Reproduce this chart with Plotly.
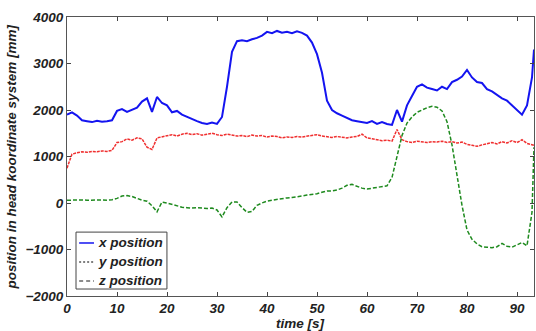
import plotly.graph_objects as go

t = list(range(0, 94)) + [93.4]

x_pos = [1900, 1950, 1880, 1780, 1760, 1740, 1770, 1750, 1760, 1780,
         1980, 2020, 1960, 2000, 2050, 2180, 2250, 1960, 2280, 2150,
         2100, 1950, 1980, 1900, 1850, 1800, 1760, 1720, 1700, 1730,
         1700, 1850, 2500, 3250, 3480, 3500, 3480, 3520, 3550, 3600,
         3680, 3650, 3700, 3660, 3680, 3650, 3690, 3660, 3600, 3450,
         3200, 2800, 2200, 2000, 1930, 1880, 1830, 1780, 1760, 1740,
         1720, 1760, 1700, 1740, 1700, 1680, 2000, 1750, 2100, 2300,
         2500, 2550, 2480, 2450, 2420, 2500, 2450, 2600, 2650, 2720,
         2860, 2700, 2600, 2580, 2450, 2400, 2320, 2250, 2200, 2100,
         2000, 1900, 2100, 2700, 3300]

y_pos = [750, 1050, 1080, 1100, 1090, 1110, 1100, 1120, 1110, 1130,
         1300, 1320, 1380, 1350, 1400, 1380, 1200, 1150, 1400, 1420,
         1450, 1470, 1440, 1480, 1500, 1470, 1490, 1460, 1480, 1500,
         1470, 1450, 1480, 1460, 1440, 1450, 1430, 1460, 1440, 1450,
         1420, 1440, 1430, 1400, 1420, 1410, 1430, 1420, 1440, 1450,
         1470, 1440, 1420, 1410, 1430, 1420, 1400, 1420, 1430, 1480,
         1400, 1380, 1360, 1340, 1350, 1330, 1580, 1360, 1320, 1300,
         1330, 1310, 1300, 1320, 1310, 1330, 1300, 1320, 1290, 1310,
         1260, 1240, 1220, 1250, 1280, 1300, 1270, 1320, 1290, 1340,
         1300, 1360, 1280, 1250, 1240]

z_pos = [60, 65, 60, 65, 60, 65, 60, 65, 60, 70,
         100, 150, 160, 140, 100, 60, 40, -60, -190, 20,
         0, -30, -60, -90, -100, -110, -100, -110, -120, -110,
         -150, -300, -100, 20, 20, -100, -200, -180, -50, 0,
         40, 60, 80, 100, 110, 120, 130, 150, 170, 180,
         200, 230, 260, 260, 280, 320, 380, 400, 360, 320,
         300, 320, 340, 350, 370, 550, 1000, 1450, 1720, 1850,
         1950, 2000, 2050, 2080, 2060, 1980, 1750, 1250, 600, -50,
         -580, -780, -880, -940, -950, -960, -940, -870, -930, -950,
         -900, -850, -920, -200, 1200]

series_names = ["x position", "y position", "z position"]
x_ticks = [0, 10, 20, 30, 40, 50, 60, 70, 80, 90]
y_ticks = [-2000, -1000, 0, 1000, 2000, 3000, 4000]

FONT = "Liberation Sans"
colors = ["#1414f0", "#f03030", "#1e8a1e"]
dashes = ["solid", "3px,1px", "4px,2px"]
widths = [2, 1.5, 1.5]

fig = go.Figure()
for name, vals, c, d, w in zip(series_names, [x_pos, y_pos, z_pos], colors, dashes, widths):
    fig.add_trace(go.Scatter(x=t, y=vals, mode="lines", name=name, showlegend=False,
                             line=dict(color=c, width=w, dash=d)))

axis_font = dict(family=FONT, size=13.5, color="#222", weight="bold", style="italic")

# hand-built legend box (MATLAB style, short line samples)
shapes = [dict(type="rect", xref="paper", yref="paper", x0=0.0193, x1=0.214, y0=0.025, y1=0.229,
               fillcolor="white", line=dict(color="#444", width=1), layer="above")]
annotations = []
row_y = [0.190, 0.122, 0.054]
legend_line_colors = ["#1414f0", "#555", "#666"]
legend_dashes = ["solid", "2px,2px", "4px,3px"]
for name, ry, lc, ld in zip(series_names, row_y, legend_line_colors, legend_dashes):
    shapes.append(dict(type="line", xref="paper", yref="paper", x0=0.026, x1=0.0578, y0=ry, y1=ry,
                       line=dict(color=lc, width=1.5, dash=ld), layer="above"))
    annotations.append(dict(text=name, xref="paper", yref="paper", x=0.062, y=ry,
                            xanchor="left", yanchor="middle", showarrow=False,
                            font=dict(family=FONT, size=13.5, color="#222", weight="bold", style="italic")))

annotations += [
    dict(text="time [s]", xref="paper", yref="paper", x=0.5, y=-0.097,
         xanchor="center", yanchor="middle", showarrow=False, font=axis_font),
    dict(text="position in head koordinate system [mm]", xref="paper", yref="paper",
         x=-0.118, y=0.5, xanchor="center", yanchor="middle", textangle=-90,
         showarrow=False, font=axis_font),
]

fig.update_layout(
    width=536, height=331,
    margin=dict(l=67, r=2, t=17, b=35, autoexpand=False),
    paper_bgcolor="white", plot_bgcolor="white",
    font=axis_font,
    showlegend=False,
    xaxis=dict(range=[0, 93.4], tickvals=x_ticks, ticks="inside", ticklen=4,
               showline=True, linecolor="#555", mirror="ticks", showgrid=False,
               zeroline=False, tickfont=axis_font, automargin=False),
    yaxis=dict(range=[-2000, 4000], tickvals=y_ticks, ticks="inside", ticklen=4,
               showline=True, linecolor="#555", mirror="ticks", showgrid=False,
               zeroline=False, tickfont=axis_font, automargin=False),
    shapes=shapes,
    annotations=annotations,
)

fig.write_html("out.html", config={"displayModeBar": False},
               post_script="document.body.style.margin='0';document.body.style.overflow='hidden';")
